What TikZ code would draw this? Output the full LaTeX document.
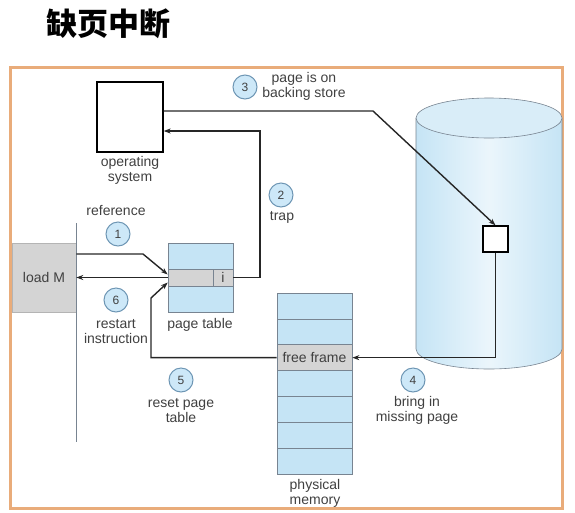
\documentclass[tikz,border=0pt]{standalone}
\usepackage{fontspec}
\setmainfont{Liberation Sans}
\newfontfamily\cjkfont{Noto Sans CJK SC}
\usetikzlibrary{arrows.meta}

\definecolor{pageblue}{RGB}{197,228,245}
\definecolor{rowgray}{RGB}{212,212,212}
\definecolor{frameorange}{RGB}{233,172,122}
\definecolor{edgegray}{RGB}{120,132,145}
\definecolor{stepblue}{RGB}{205,232,248}
\definecolor{stepedge}{RGB}{110,150,180}

\tikzset{
  arr/.style={-{Stealth[length=7pt,width=5pt]}, line width=1.4pt, black!85},
  cell/.style={draw=edgegray, line width=0.6pt, inner sep=0pt},
  stepnum/.style={circle, draw=stepedge, fill=stepblue, line width=1pt,
    minimum size=24pt, inner sep=0pt, text=black!75, font=\fontsize{12}{12}\selectfont},
  lbl/.style={align=center, text=black!75, font=\fontsize{14}{15}\selectfont},
}

\begin{document}
\begin{tikzpicture}[x=1pt,y=-1pt]
    \useasboundingbox (0,0) rectangle (575,512);
    \node[anchor=west, font=\cjkfont\bfseries\fontsize{31}{31}\selectfont] (title) at (43,24) {缺页中断};
    \draw[frameorange, line width=3pt] (10,67) rectangle (562,508);

    % operating system
    \node[draw, line width=1.3pt, minimum width=66pt, minimum height=70pt] (os) at (130,117) {};
    \node[lbl] (oslbl) at (130,170) {operating\\system};

    % load M
    \node[fill=rowgray, draw=rowgray!85!black, line width=0.5pt, minimum width=64pt, minimum height=69pt,
      inner sep=0pt, lbl] (loadm) at (44,277.5) {load M};
    \draw[edgegray, line width=0.8pt] (loadm.east |- 0,223) -- (loadm.east |- 0,442);

    % page table
    \node[cell, fill=pageblue, minimum width=65pt, minimum height=26pt] (pttop) at (200.5,256) {};
    \node[cell, fill=rowgray, minimum width=45pt, minimum height=17pt] (ptrow) at (190.5,277.5) {};
    \node[cell, fill=rowgray, minimum width=20pt, minimum height=17pt, lbl] (ptbit) at (223,277.5) {i};
    \node[cell, fill=pageblue, minimum width=65pt, minimum height=26pt] (ptbot) at (200.5,299) {};
    \node[lbl] (ptlbl) at (200,325) {page table};

    % physical memory
    \foreach \i/\c in {1/pageblue,2/pageblue,3/rowgray,4/pageblue,5/pageblue,6/pageblue,7/pageblue}
        \node[cell, fill=\c, minimum width=75pt, minimum height=25.86pt, lbl]
            (mem\i) at (314.5,{293+25.86*(\i-0.5)}) {\ifnum\i=3 free frame\fi};
    \node[lbl] (memlbl) at (315,493) {physical\\memory};

    % backing store
    \shade[left color=pageblue, right color=pageblue, middle color=pageblue!35]
        (416,118) -- (416,349) arc[start angle=180, end angle=360, x radius=73pt, y radius=20pt] -- (562,118) -- cycle;
    \draw[edgegray, line width=0.6pt]
        (416,118) -- (416,349) arc[start angle=180, end angle=360, x radius=73pt, y radius=20pt] -- (562,118);
    \draw[edgegray, fill=pageblue!65, line width=0.6pt] (489,118) ellipse [x radius=73pt, y radius=20pt];
    \node[draw, fill=white, line width=1.3pt, minimum width=25pt, minimum height=26pt] (dpage) at (495.5,239) {};

    % steps
    \node[stepnum] (s1) at (118,234) {1};
    \node[lbl] (s1lbl) at (116,210) {reference};
    \node[stepnum] (s2) at (281,195) {2};
    \node[lbl] (s2lbl) at (282,217) {trap};
    \node[stepnum] (s3) at (245,87) {3};
    \node[lbl] (s3lbl) at (304,86) {page is on\\backing store};
    \node[stepnum] (s4) at (413,380) {4};
    \node[lbl] (s4lbl) at (417,410) {bring in\\missing page};
    \node[stepnum] (s5) at (181,380) {5};
    \node[lbl] (s5lbl) at (181,411) {reset page\\table};
    \node[stepnum] (s6) at (116,300) {6};
    \node[lbl] (s6lbl) at (116,332) {restart\\instruction};

    % connectors
    \draw[arr] (loadm.east |- 0,254) -- (143,254) -- ([yshift=3pt]ptrow.west);
    \draw[arr] (ptbit.east) -| (260,131) -- (os.east |- 0,131);
    \draw[arr] (os.east |- 0,111) -- (373,111) -- (dpage.north);
    \draw[arr] (dpage.south) |- (mem3.east);
    \draw[arr] (mem3.west) -| (151,298) -- ([yshift=-5pt]ptrow.west);
    \draw[arr] (ptrow.west) -- (loadm.east);
\end{tikzpicture}
\end{document}
